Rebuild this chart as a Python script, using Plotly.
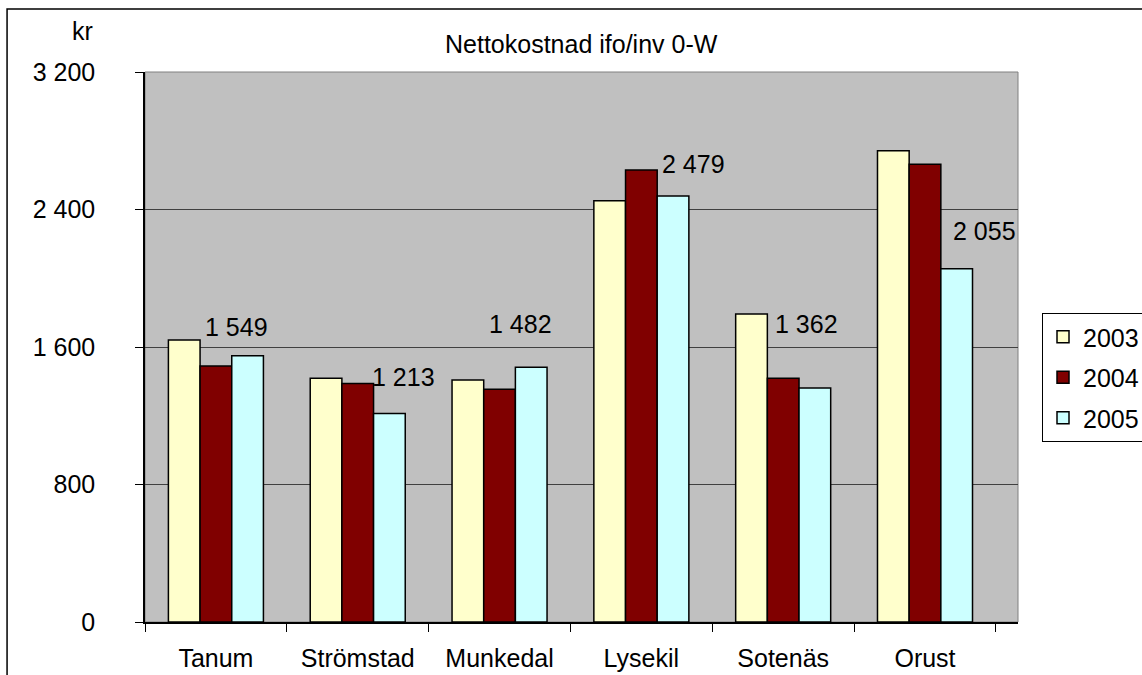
import plotly.graph_objects as go

categories = ['Tanum', 'Strömstad', 'Munkedal', 'Lysekil', 'Sotenäs', 'Orust']
values_2003 = [1641, 1418, 1408, 2451, 1792, 2742]
values_2004 = [1489, 1387, 1354, 2630, 1418, 2663]
values_2005 = [1549, 1213, 1482, 2479, 1362, 2055]
label_text_2005 = ['1 549', '1 213', '1 482', '2 479', '1 362', '2 055']
y_tickvals = [0, 800, 1600, 2400, 3200]
y_ticktext = ['0', '800', '1 600', '2 400', '3 200']

# manual nudges of the value labels (px, relative to top centre of 2005 bar)
label_offsets = [(-12, 29), (13, 37), (-12, 43), (20, 32), (-9, 64), (27, 38)]

FONT = 'Liberation Sans, Arial, sans-serif'
FS = 25

fig = go.Figure()
for name, vals, color in [('2003', values_2003, '#FFFFCC'),
                          ('2004', values_2004, '#800000'),
                          ('2005', values_2005, '#CCFFFF')]:
    fig.add_trace(go.Bar(x=categories, y=vals, name=name, legendgroup=name,
                         marker=dict(color=color, line=dict(color='black', width=1.5))))

annotations = []
for cat, v, txt, (dx, dy) in zip(categories, values_2005, label_text_2005, label_offsets):
    annotations.append(dict(x=cat, y=v, xref='x', yref='y', text=txt, showarrow=False,
                            xshift=32.5 + dx, yshift=dy, yanchor='middle',
                            font=dict(size=FS, color='black', family=FONT)))
annotations.append(dict(x=0.5, y=1.0509, xref='paper', yref='paper',
                        text='Nettokostnad ifo/inv 0-W', showarrow=False,
                        yanchor='middle', font=dict(size=FS, color='black', family=FONT)))
annotations.append(dict(x=-0.0859, y=1.0745, xref='paper', yref='paper',
                        text='kr', showarrow=False, yanchor='middle',
                        font=dict(size=FS, color='black', family=FONT)))

fig.update_layout(
    width=1142, height=675,
    margin=dict(l=145, r=124, t=72, b=53, autoexpand=False),
    paper_bgcolor='white', plot_bgcolor='#C0C0C0',
    font=dict(family=FONT, size=FS, color='black'),
    barmode='group', bargap=0.33, bargroupgap=0,
    showlegend=True,
    legend=dict(x=1.0275, y=0.5618, xanchor='left', yanchor='top',
                bordercolor='black', borderwidth=1, bgcolor='white',
                font=dict(size=FS, family=FONT), tracegroupgap=5,
                traceorder='grouped'),
    annotations=annotations,
    shapes=[
        dict(type='rect', xref='paper', yref='paper', x0=0, x1=1, y0=0, y1=1,
             line=dict(color='#808080', width=1), layer='below'),
        dict(type='rect', xref='paper', yref='paper', x0=-0.158, x1=1.3, y0=-0.3, y1=1.1145,
             line=dict(color='black', width=1.5), layer='above'),
    ],
)
fig.update_xaxes(showline=True, linecolor='black', linewidth=1.5,
                 ticks='outside', tickson='boundaries', ticklen=8, tickcolor='black',
                 ticklabelstandoff=13, showgrid=False)
fig.update_yaxes(range=[0, 3200], tickvals=y_tickvals, ticktext=y_ticktext,
                 showline=True, linecolor='black', linewidth=1.5,
                 ticks='outside', ticklen=8, tickcolor='black', ticklabelstandoff=35,
                 showgrid=True, gridcolor='#404040', gridwidth=1, zeroline=False)

fig.write_html('out.html', config={'displayModeBar': False},
               post_script="document.body.style.margin='0';")
